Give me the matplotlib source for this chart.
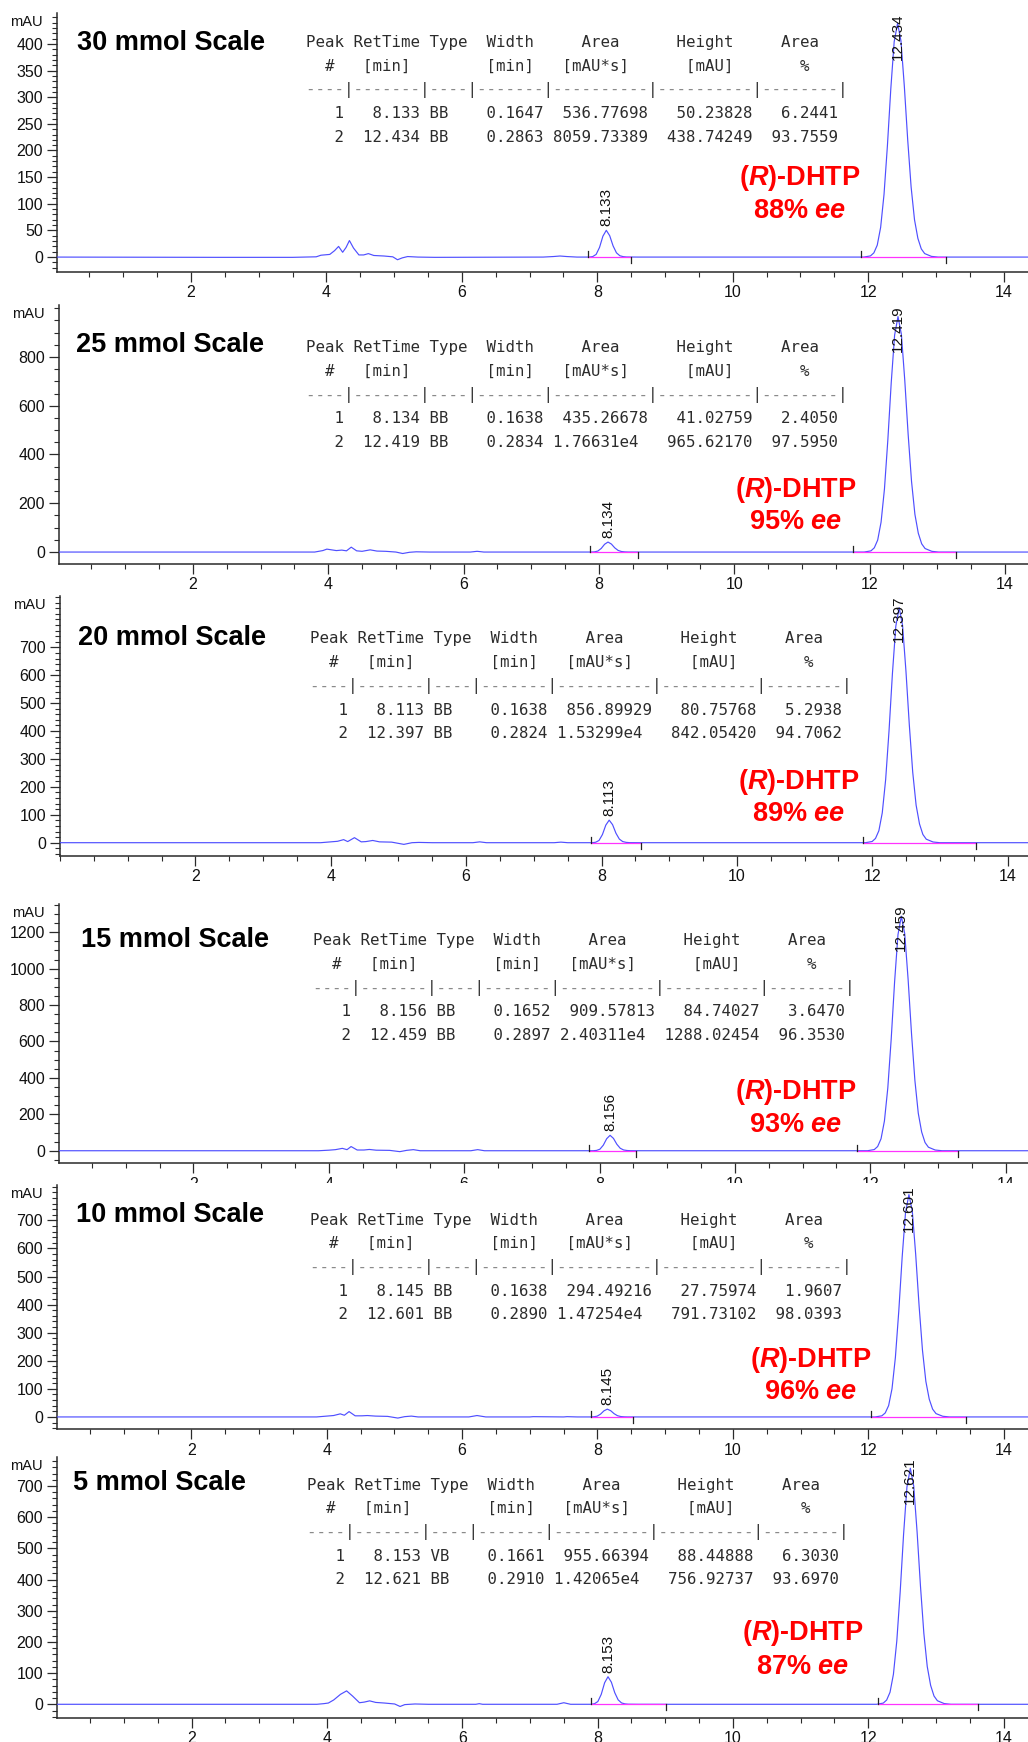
import matplotlib
matplotlib.use("Agg")
import matplotlib.pyplot as plt
from matplotlib.ticker import FixedLocator, MultipleLocator
from matplotlib.patches import Rectangle

# ---------------- data ----------------
scale_titles = ["30 mmol Scale", "25 mmol Scale", "20 mmol Scale",
                "15 mmol Scale", "10 mmol Scale", "5 mmol Scale"]
ee_values = [88, 95, 89, 93, 96, 87]

peak_no = [1, 2]
ret_times = [[8.133, 12.434], [8.134, 12.419], [8.113, 12.397],
             [8.156, 12.459], [8.145, 12.601], [8.153, 12.621]]
peak_types = [["BB", "BB"], ["BB", "BB"], ["BB", "BB"],
              ["BB", "BB"], ["BB", "BB"], ["VB", "BB"]]
peak_widths = [[0.1647, 0.2863], [0.1638, 0.2834], [0.1638, 0.2824],
               [0.1652, 0.2897], [0.1638, 0.2890], [0.1661, 0.2910]]
peak_areas = [["536.77698", "8059.73389"], ["435.26678", "1.76631e4"],
              ["856.89929", "1.53299e4"], ["909.57813", "2.40311e4"],
              ["294.49216", "1.47254e4"], ["955.66394", "1.42065e4"]]
peak_heights = [[50.23828, 438.74249], [41.02759, 965.62170],
                [80.75768, 842.05420], [84.74027, 1288.02454],
                [27.75974, 791.73102], [88.44888, 756.92737]]
area_pct = [[6.2441, 93.7559], [2.4050, 97.5950], [5.2938, 94.7062],
            [3.6470, 96.3530], [1.9607, 98.0393], [6.3030, 93.6970]]

# table header cells: (text, column width, alignment)
header_row1 = [("Peak", 4, "c"), ("RetTime", 7, "c"), ("Type", 4, "c"), ("Width", 7, "c"),
               ("Area", 10, "c"), ("Height", 10, "c"), ("Area", 8, "c")]
header_row2 = [("#", 4, "c"), ("[min]", 7, "c"), ("", 4, "c"), ("[min]", 7, "c"),
               ("[mAU*s]", 10, "l1"), ("[mAU]", 10, "c"), ("%", 8, "c")]

# integration limits (start, end)
peak_starts = [[7.87, 11.89], [7.87, 11.76], [7.84, 11.86],
               [7.84, 11.80], [7.90, 12.04], [7.90, 12.14]]
peak_ends = [[8.50, 13.15], [8.57, 13.28], [8.59, 13.53],
             [8.54, 13.29], [8.53, 13.44], [9.01, 13.62]]

# chromatogram traces (time [min], signal [mAU])
trace_t1 = [0.0, 2.4, 3.5, 3.85, 3.92, 4.05, 4.12, 4.18, 4.24, 4.29, 4.34, 4.4, 4.48,
            4.55, 4.62, 4.7, 4.85, 4.98, 5.05, 5.12, 5.2, 5.35, 5.6, 7.2, 7.35, 7.45,
            7.55, 7.7,
            7.883, 7.933, 7.983, 8.033, 8.083, 8.133, 8.183, 8.233, 8.283, 8.333, 8.383, 8.433,
            8.6, 10.0, 11.8,
            11.934, 12.034, 12.084, 12.134, 12.184, 12.234, 12.284, 12.334, 12.384, 12.434,
            12.484, 12.534, 12.584, 12.634, 12.684, 12.734, 12.784, 12.834, 12.934, 13.034,
            13.5, 14.4]
trace_y1 = [0.0, -0.5, -0.5, 0.5, 3.5, 5.0, 12.0, 20.0, 9.0, 18.0, 31.0, 17.0, 4.0,
            4.0, 6.5, 3.0, 2.0, 0.5, -5.0, -1.5, 1.0, 0.0, -0.5, 0.0, 1.0, 2.0,
            1.0, 0.0,
            0.0, 1.0, 5.0, 18.1, 39.2, 50.2, 40.2, 21.1, 8.0, 2.5, 0.8, 0.2,
            0.0, 0.0, 0.0,
            0.0, 2.2, 7.9, 22.4, 55.7, 117.6, 208.8, 315.5, 404.1, 438.7,
            405.8, 320.3, 219.4, 131.6, 70.2, 35.1, 15.4, 6.6, 1.3, 0.0,
            0.0, 0.0]

trace_t2 = [0.0, 3.8, 3.92, 3.98, 4.05, 4.12, 4.2, 4.27, 4.34, 4.42, 4.5, 4.62, 4.72,
            4.85, 5.0, 5.1, 5.2, 5.3, 5.5, 6.1, 6.2, 6.3, 7.7,
            7.884, 7.934, 7.984, 8.034, 8.084, 8.134, 8.184, 8.234, 8.284, 8.334, 8.384, 8.434,
            8.6, 10.5, 11.8,
            11.919, 12.019, 12.069, 12.119, 12.169, 12.219, 12.269, 12.319, 12.369, 12.419,
            12.469, 12.519, 12.569, 12.619, 12.669, 12.719, 12.769, 12.819, 12.919, 13.019,
            13.5, 14.4]
trace_y2 = [0.0, 0.0, 6.0, 12.0, 9.0, 6.0, 8.0, 5.0, 20.0, 5.0, 3.0, 9.0, 4.0,
            3.0, 0.0, -6.0, -1.0, 1.0, 0.0, 0.0, 3.0, 0.0, 0.0,
            0.0, 0.8, 4.1, 14.8, 32.0, 41.0, 32.8, 17.2, 6.6, 2.1, 0.6, 0.1,
            0.0, 0.0, 0.0,
            0.0, 4.8, 17.4, 49.2, 122.6, 258.8, 459.6, 694.3, 889.3, 965.6,
            893.2, 704.9, 482.8, 289.7, 154.5, 77.2, 33.8, 14.5, 2.9, 0.0,
            0.0, 0.0]

trace_t3 = [0.0, 3.85, 4.0, 4.1, 4.19, 4.25, 4.35, 4.45, 4.52, 4.62, 4.72, 4.9, 5.08,
            5.2, 5.3, 5.5, 6.1, 6.2, 6.3, 7.3, 7.4, 7.5, 7.7,
            7.863, 7.913, 7.963, 8.013, 8.063, 8.113, 8.163, 8.213, 8.263, 8.313, 8.363, 8.413,
            8.6, 10.0, 11.8,
            11.897, 11.997, 12.047, 12.097, 12.147, 12.197, 12.247, 12.297, 12.347, 12.397,
            12.447, 12.497, 12.547, 12.597, 12.647, 12.697, 12.747, 12.797, 12.897, 12.997,
            13.5, 14.4]
trace_y3 = [0.0, 0.0, 3.0, 5.0, 11.0, 4.0, 18.0, 3.0, 4.0, 8.0, 3.0, 2.0, -6.0,
            0.0, 1.0, 0.0, 0.0, 3.0, 0.0, 0.0, 2.0, 0.0, 0.0,
            0.0, 1.6, 8.1, 29.1, 63.0, 80.8, 64.6, 33.9, 12.9, 4.0, 1.2, 0.2,
            0.0, 0.0, 0.0,
            0.0, 4.2, 15.2, 42.9, 106.9, 225.7, 400.8, 605.4, 775.5, 842.1,
            778.9, 614.7, 421.0, 252.6, 134.7, 67.4, 29.5, 12.6, 2.5, 0.0,
            0.0, 0.0]

trace_t4 = [0.0, 3.85, 4.0, 4.1, 4.2, 4.27, 4.33, 4.42, 4.52, 4.6, 4.7, 4.9, 5.05,
            5.15, 5.25, 5.35, 5.5, 6.1, 6.2, 6.3, 7.7,
            7.906, 7.956, 8.006, 8.056, 8.106, 8.156, 8.206, 8.256, 8.306, 8.356, 8.406, 8.456,
            8.6, 10.0, 11.8,
            11.959, 12.059, 12.109, 12.159, 12.209, 12.259, 12.309, 12.359, 12.409, 12.459,
            12.509, 12.559, 12.609, 12.659, 12.709, 12.759, 12.809, 12.859, 12.959, 13.059,
            13.5, 14.4]
trace_y4 = [0.0, 0.0, 3.0, 6.0, 13.0, 6.0, 23.0, 4.0, 4.0, 7.0, 3.0, 2.0, -5.0,
            2.0, 6.0, 0.0, 0.0, 0.0, 6.0, 0.0, 0.0,
            0.0, 1.7, 8.5, 30.5, 66.1, 84.7, 67.8, 35.6, 13.6, 4.2, 1.3, 0.3,
            0.0, 0.0, 0.0,
            0.0, 6.4, 23.2, 65.7, 163.6, 345.2, 613.1, 926.1, 1186.3, 1288.0,
            1191.4, 940.3, 644.0, 386.4, 206.1, 103.0, 45.1, 19.3, 3.9, 0.0,
            0.0, 0.0]

trace_t5 = [0.0, 3.85, 4.0, 4.1, 4.2, 4.26, 4.33, 4.42, 4.52, 4.6, 4.72, 4.9, 5.05,
            5.15, 5.25, 5.35, 5.5, 6.1, 6.22, 6.35, 7.0, 7.05, 7.5, 7.55, 7.7,
            7.895, 7.945, 7.995, 8.045, 8.095, 8.145, 8.195, 8.245, 8.295, 8.345, 8.395, 8.445,
            8.6, 10.0, 11.9,
            12.101, 12.201, 12.251, 12.301, 12.351, 12.401, 12.451, 12.501, 12.551, 12.601,
            12.651, 12.701, 12.751, 12.801, 12.851, 12.901, 12.951, 13.001, 13.101, 13.201,
            13.6, 14.4]
trace_y5 = [0.0, 0.0, 3.0, 5.0, 11.0, 6.0, 19.0, 4.0, 4.0, 5.0, 3.0, 2.0, -4.0,
            1.0, 3.0, 0.0, 0.0, 0.0, 5.0, 0.0, 0.0, 1.0, 0.0, 1.0, 0.0,
            0.0, 0.6, 2.8, 10.0, 21.7, 27.8, 22.2, 11.7, 4.4, 1.4, 0.4, 0.1,
            0.0, 0.0, 0.0,
            0.0, 4.0, 14.3, 40.4, 100.5, 212.2, 376.9, 569.3, 729.2, 791.7,
            732.4, 578.0, 395.9, 237.5, 126.7, 63.3, 27.7, 11.9, 2.4, 0.0,
            0.0, 0.0]

trace_t6 = [0.0, 3.85, 3.95, 4.02, 4.1, 4.2, 4.29, 4.38, 4.48, 4.55, 4.63, 4.72, 4.85,
            5.0, 5.08, 5.15, 5.3, 5.5, 6.2, 6.25, 6.3, 7.4, 7.5, 7.6, 7.8,
            7.903, 7.953, 8.003, 8.053, 8.103, 8.153, 8.203, 8.253, 8.303, 8.353, 8.403, 8.453,
            8.6, 10.0, 12.0,
            12.121, 12.221, 12.271, 12.321, 12.371, 12.421, 12.471, 12.521, 12.571, 12.621,
            12.671, 12.721, 12.771, 12.821, 12.871, 12.921, 12.971, 13.021, 13.121, 13.221,
            13.6, 14.4]
trace_y6 = [0.0, 0.0, 2.0, 4.0, 14.0, 32.0, 43.0, 26.0, 5.0, 7.0, 11.0, 6.0, 4.0,
            1.0, -7.0, -1.0, 1.0, 0.0, 0.0, 2.0, 0.0, 0.0, 5.0, 0.0, 0.0,
            0.0, 1.8, 8.8, 31.8, 69.0, 88.4, 70.8, 37.1, 14.2, 4.4, 1.3, 0.3,
            0.0, 0.0, 0.0,
            0.0, 3.8, 13.6, 38.6, 96.1, 202.9, 360.3, 544.2, 697.1, 756.9,
            700.2, 552.6, 378.5, 227.1, 121.1, 60.6, 26.5, 11.4, 2.3, 0.0,
            0.0, 0.0]

traces_t = [trace_t1, trace_t2, trace_t3, trace_t4, trace_t5, trace_t6]
traces_y = [trace_y1, trace_y2, trace_y3, trace_y4, trace_y5, trace_y6]

x_tick_labels = [2, 4, 6, 8, 10, 12, 14]
y_major_ticks = [[0, 50, 100, 150, 200, 250, 300, 350, 400],
                 [0, 200, 400, 600, 800],
                 [0, 100, 200, 300, 400, 500, 600, 700],
                 [0, 200, 400, 600, 800, 1000, 1200],
                 [0, 100, 200, 300, 400, 500, 600, 700],
                 [0, 100, 200, 300, 400, 500, 600, 700]]
y_minor_step = [10, 50, 20, 50, 20, 20]

# ---------------- layout (pixels) ----------------
W, H = 1028, 1742
AX_LEFT = [57, 59, 60, 59, 57, 57]
AX_TOP = [13, 305, 596, 904, 1185, 1457]
AX_BOT = [272, 564, 855.7, 1163.3, 1429.3, 1717.7]
YLIM = [(-28, 458), (-49, 1013), (-46.6, 884), (-69, 1355), (-44, 826), (-43, 793)]
XLIM = [(0.022, 14.36), (0.022, 14.34), (0.0, 14.30),
        (0.015, 14.33), (0.015, 14.36), (0.01, 14.36)]
TITLE_XY = [(76.7, 43), (76, 345), (78, 638), (81, 940), (76, 1215), (73, 1483)]
TABLE_XY = [(306, 42.3), (306, 347.7), (310, 639), (312.7, 940.7), (310, 1220), (307, 1485)]
ROW_STEP = 23.7
RED_X = [800, 795.5, 799, 795.5, 811, 803]
RED_Y1 = [178, 490, 781.7, 1092, 1360, 1632.7]
RED_Y2 = [211, 522, 814, 1125, 1392, 1666.7]

plt.rcParams['font.family'] = ['Liberation Sans', 'DejaVu Sans']
plt.rcParams['mathtext.fontset'] = 'custom'
plt.rcParams['mathtext.rm'] = 'Liberation Sans:bold'
plt.rcParams['mathtext.bf'] = 'Liberation Sans:bold'
plt.rcParams['mathtext.it'] = 'Liberation Sans:italic:bold'

fig = plt.figure(figsize=(W / 100, H / 100), dpi=100)
fig.patch.set_facecolor('white')


def fx(x):
    return x / W


def fy(y):
    return 1 - y / H


def cell(text, width, align):
    if align == "l1":
        return (" " + text).ljust(width)
    pad = width - len(text)
    left = (pad + 1) // 2
    return (" " * left + text).ljust(width)


def header_line(cells):
    return " ".join(cell(t, w, a) for t, w, a in cells) + " "


TRACE_COLOR = '#4f4fff'
TEXT_GRAY = '#2c2c2c'
MONO = 'DejaVu Sans Mono'

for i in range(6):
    L, T, B = AX_LEFT[i], AX_TOP[i], AX_BOT[i]
    ax = fig.add_axes([fx(L), fy(B), (W - L) / W, (B - T) / H], zorder=i + 1)
    ax.set_facecolor('none')
    ax.set_xlim(*XLIM[i])
    ax.set_ylim(*YLIM[i])
    for s in ['top', 'right']:
        ax.spines[s].set_visible(False)
    for s in ['left', 'bottom']:
        ax.spines[s].set_linewidth(1.1)
        ax.spines[s].set_color('#2a2a2a')

    ax.xaxis.set_major_locator(FixedLocator(x_tick_labels))
    ax.set_xticklabels([str(v) for v in x_tick_labels])
    ax.xaxis.set_minor_locator(MultipleLocator(0.5))
    ax.yaxis.set_major_locator(FixedLocator(y_major_ticks[i]))
    ax.set_yticklabels([str(v) for v in y_major_ticks[i]])
    ax.yaxis.set_minor_locator(MultipleLocator(y_minor_step[i]))
    ax.tick_params(axis='both', which='major', length=7.2, width=0.9,
                   color='#2a2a2a', labelsize=11.5, labelcolor='#111111')
    ax.tick_params(axis='both', which='minor', length=3.6, width=0.8, color='#2a2a2a')
    ax.tick_params(axis='x', which='major', pad=2.5)
    ax.tick_params(axis='y', which='major', pad=2.9)

    ax.annotate('mAU', xy=(0, 1), xycoords='axes fraction', xytext=(-14, -9),
                textcoords='offset pixels', ha='right', va='center',
                fontsize=10.5, color='#111111', annotation_clip=False)

    # trace
    ax.plot(traces_t[i], traces_y[i], color=TRACE_COLOR, lw=0.85, zorder=3,
            solid_joinstyle='round')

    px_per_unit = (B - T) / (YLIM[i][1] - YLIM[i][0])
    mark = 6.0 / px_per_unit
    for k in range(2):
        s, e = peak_starts[i][k], peak_ends[i][k]
        ax.plot([s, e], [0, 0], color='#ff33ff', lw=0.9, zorder=4)
        ax.plot([s, s], [0, mark], color='#222222', lw=0.9, zorder=5)
        ax.plot([e, e], [0, -mark], color='#222222', lw=0.9, zorder=5)

        # retention time label
        rt = ret_times[i][k]
        h = peak_heights[i][k]
        label = f"{rt:.3f}"
        label_len = len(label) * 7.8
        top_px = (YLIM[i][1] - h) * px_per_unit
        if top_px - 4 < label_len:
            ax.text(rt, YLIM[i][1], label, rotation=90, ha='center', va='top',
                    fontsize=11, color='#111111', zorder=6)
        else:
            ax.annotate(label, xy=(rt, h), xytext=(0, 4), textcoords='offset pixels',
                        rotation=90, ha='center', va='bottom', fontsize=11,
                        color='#111111', zorder=6)

    # title
    tx, ty = TITLE_XY[i]
    fig.text(fx(tx), fy(ty), scale_titles[i], ha='left', va='center',
             fontsize=19.5, fontweight='bold', color='black', zorder=10)

    # table
    x0, y0 = TABLE_XY[i]
    head1 = header_line(header_row1)
    head2 = header_line(header_row2)
    sep = "----|-------|----|-------|----------|----------|--------|"
    dashes = sep.replace('|', ' ')
    pipes = ''.join('|' if c == '|' else ' ' for c in sep)
    rows = []
    for k in range(2):
        a = peak_areas[i][k]
        a_str = a.ljust(10) if 'e' in a else a.rjust(10)
        rows.append(f"{peak_no[k]:>4} {ret_times[i][k]:>7.3f} {peak_types[i][k]:<4} "
                    f"{peak_widths[i][k]:>7.4f} {a_str} {peak_heights[i][k]:>10.5f} "
                    f"{area_pct[i][k]:>8.4f}")
    lines = [head1, head2, None, rows[0], rows[1]]
    for r, ln in enumerate(lines):
        yy = fy(y0 + r * ROW_STEP)
        if ln is None:
            fig.text(fx(x0), yy, dashes, ha='left', va='center', family=MONO,
                     fontsize=11.3, color='#8a8a8a', zorder=10)
            fig.text(fx(x0), yy, pipes, ha='left', va='center', family=MONO,
                     fontsize=11.3, color='#3a3a3a', zorder=10)
        else:
            fig.text(fx(x0), yy, ln, ha='left', va='center', family=MONO,
                     fontsize=11.3, color=TEXT_GRAY, zorder=10)

    # red annotation
    fig.text(fx(RED_X[i]), fy(RED_Y1[i]), r"($R$)-DHTP", ha='center', va='center',
             fontsize=19.5, fontweight='bold', color='#ff0000', zorder=10)
    fig.text(fx(RED_X[i]), fy(RED_Y2[i]), f"{ee_values[i]}% " + r"$ee$", ha='center',
             va='center', fontsize=19.5, fontweight='bold', color='#ff0000', zorder=10)

# the 10 mmol screenshot overlaps the axis labels of the 15 mmol one
cover = Rectangle((0, fy(1198)), 1, 15 / H, transform=fig.transFigure,
                  facecolor='white', edgecolor='none', zorder=4.5)
fig.patches.append(cover)

fig.savefig('out.png', dpi=100, facecolor='white')
